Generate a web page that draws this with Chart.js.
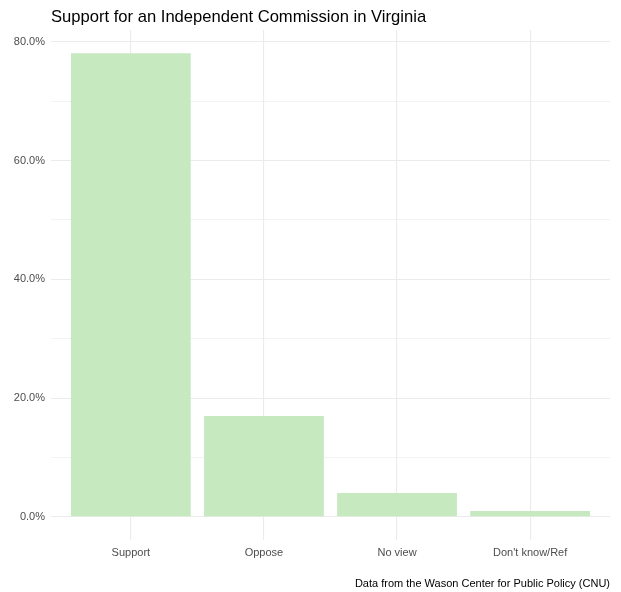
<!DOCTYPE html>
<html>
<head>
<meta charset="utf-8">
<script src="https://cdn.jsdelivr.net/npm/chart.js@4.4.0/dist/chart.umd.min.js"></script>
<style>
  html, body { margin: 0; padding: 0; background: #fff; }
  #wrap { width: 621px; height: 592px; position: relative; }
</style>
</head>
<body>
<div id="wrap"><canvas id="chart"></canvas></div>
<script>
'use strict';

// --- Data ---
const categories = ['Support', 'Oppose', 'No view', "Don't know/Ref"];
const shares = [78.1, 17.0, 4.0, 1.0];          // percent
const yGridValues = [0, 10, 20, 30, 40, 50, 60, 70, 80];
const yLabelValues = [0, 20, 40, 60, 80];

const titleText = 'Support for an Independent Commission in Virginia';
const captionText = 'Data from the Wason Center for Public Policy (CNU)';

const FONT = '"Liberation Sans", Helvetica, Arial, sans-serif';
const BAR = '#c7e9c0';
const GRID = '#ebebeb';

// ggplot-like expansion: 5% on continuous, 0.6 on discrete
const yMax = Math.max(...shares);
const yPad = yMax * 0.05;

// title + caption drawn relative to the panel (like ggplot)
const ggText = {
  id: 'ggText',
  afterDraw(chart){
    const { ctx, chartArea } = chart;
    ctx.save();
    ctx.fillStyle = '#000';
    ctx.textBaseline = 'alphabetic';
    ctx.font = '16.6px ' + FONT;
    ctx.textAlign = 'left';
    ctx.fillText(titleText, chartArea.left, 21.5);
    ctx.font = '11px ' + FONT;
    ctx.textAlign = 'right';
    ctx.fillText(captionText, chartArea.right, 587);
    ctx.restore();
  }
};

new Chart(document.getElementById('chart'), {
  type: 'bar',
  data: {
    datasets: [{
      data: categories.map((c, i) => ({ x: i, y: shares[i] })),
      backgroundColor: BAR,
      borderWidth: 0,
      barPercentage: 0.9,
      categoryPercentage: 1.0
    }]
  },
  options: {
    responsive: true,
    maintainAspectRatio: false,
    animation: false,
    layout: { padding: { top: 30, right: 11, bottom: 0, left: 0 } },
    plugins: {
      legend: { display: false },
      tooltip: { enabled: false },
      title: { display: false }
    },
    scales: {
      x: {
        type: 'linear',
        offset: false,
        min: -0.6,
        max: categories.length - 1 + 0.6,
        afterBuildTicks: s => { s.ticks = categories.map((c, i) => ({ value: i })); },
        afterFit: s => { s.height = 52; },
        border: { display: false },
        grid: { offset: false, color: GRID, lineWidth: 1.1, drawTicks: false },
        ticks: {
          padding: 6,
          color: '#4d4d4d',
          font: { family: FONT, size: 11 },
          maxRotation: 0,
          autoSkip: false,
          callback: v => categories[v]
        }
      },
      y: {
        min: -yPad,
        max: yMax + yPad,
        afterBuildTicks: s => { s.ticks = yGridValues.map(v => ({ value: v })); },
        afterFit: s => { s.width = 51; },
        border: { display: false },
        grid: {
          color: GRID,
          drawTicks: false,
          lineWidth: ctx => (yLabelValues.includes(ctx.tick && ctx.tick.value) ? 1.1 : 0.6)
        },
        ticks: {
          padding: 6,
          color: '#4d4d4d',
          font: { family: FONT, size: 11 },
          autoSkip: false,
          callback: v => (yLabelValues.includes(v) ? v.toFixed(1) + '%' : '')
        }
      }
    }
  },
  plugins: [ggText]
});
</script>
</body>
</html>
